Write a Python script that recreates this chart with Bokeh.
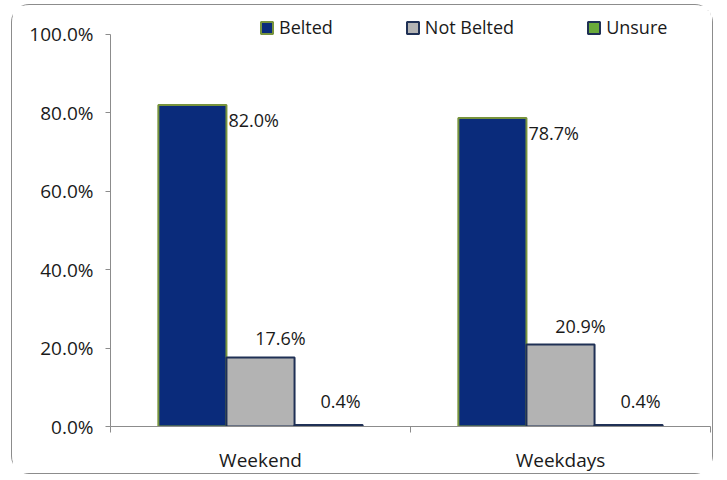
from bokeh.plotting import figure
from bokeh.models import (Range1d, FixedTicker, NumeralTickFormatter, Legend, LegendItem,
                          ColumnDataSource)
from bokeh.core.properties import value
from bokeh.embed import file_html
from bokeh.resources import INLINE

categories = ["Weekend", "Weekdays"]
series_names = ["Belted", "Not Belted", "Unsure"]
belted = [82.0, 78.7]
not_belted = [17.6, 20.9]
unsure = [0.4, 0.4]
y_ticks = [0, 20, 40, 60, 80, 100]

FONT = "Open Sans"
FS = "18px"
FS_AX = "19px"

p = figure(width=702, height=470, output_backend="svg", toolbar_location=None,
           x_range=Range1d(0, len(categories)), y_range=Range1d(0, 1.061),
           min_border_left=98, min_border_right=4, min_border_top=5, min_border_bottom=47)
p.styles = {"border": "1px solid #8c8c8c", "border-radius": "18px",
            "margin-left": "11px", "margin-top": "4px"}
p.outline_line_color = None
p.xgrid.visible = False
p.ygrid.visible = False
p.background_fill_color = "white"
p.border_fill_color = "white"

bw = 0.227
offsets = [-bw, 0.0, bw]
fills = ["#0a2b7b", "#b3b3b3", "#6aaa3a"]
lines = ["#77933c", "#1f3055", "#1f3055"]
series = [belted, not_belted, unsure]

renderers = []
for vals, off, fc, lc in zip(series, offsets, fills, lines):
    src = ColumnDataSource(dict(x=[i + 0.5 + off for i in range(len(categories))],
                                top=[v / 100.0 for v in vals],
                                lab=["%.1f%%" % v for v in vals]))
    r = p.vbar(x="x", top="top", bottom=0, width=bw, source=src,
               fill_color=fc, line_color=lc, line_width=2)
    renderers.append((r, src))

# value labels
label_cfg = [
    dict(dx=bw / 2, align="left", xo=2, yo=15),
    dict(dx=0.0, align="center", xo=20, yo=-19),
    dict(dx=0.0, align="center", xo=12, yo=-24),
]
for (r, src), off, cfg in zip(renderers, offsets, label_cfg):
    xs = [x + cfg["dx"] for x in src.data["x"]]
    p.text(x=xs, y=src.data["top"], text=src.data["lab"], text_align=cfg["align"],
           text_baseline="middle", x_offset=cfg["xo"], y_offset=cfg["yo"],
           text_font=value(FONT), text_font_size=FS, text_color="#1a1a1a")

# axes
yax = p.yaxis[0]
yax.ticker = FixedTicker(ticks=[t / 100.0 for t in y_ticks])
yax.formatter = NumeralTickFormatter(format="0.0%")
yax.bounds = (0, 1.0)
yax.axis_line_color = "#8c8c8c"
yax.major_tick_line_color = "#8c8c8c"
yax.major_tick_out = 5
yax.major_tick_in = 0
yax.minor_tick_line_color = None
yax.major_label_standoff = 12
yax.major_label_text_font = FONT
yax.major_label_text_font_size = FS_AX
yax.major_label_text_color = "#1a1a1a"

xax = p.xaxis[0]
centers = [i + 0.5 for i in range(len(categories))]
xax.ticker = FixedTicker(ticks=centers, minor_ticks=list(range(len(categories) + 1)))
xax.major_label_overrides = {c: name for c, name in zip(centers, categories)}
xax.axis_line_color = "#8c8c8c"
xax.major_tick_line_color = None
xax.major_tick_out = 0
xax.major_tick_in = 0
xax.minor_tick_line_color = "#8c8c8c"
xax.minor_tick_out = 6
xax.minor_tick_in = 0
xax.major_label_standoff = 14
xax.major_label_text_font = FONT
xax.major_label_text_font_size = FS_AX
xax.major_label_text_color = "#1a1a1a"

legend = Legend(items=[LegendItem(label=n, renderers=[r]) for n, (r, _) in zip(series_names, renderers)],
                orientation="horizontal", location=(149, 387), padding=0, margin=0,
                spacing=72, glyph_width=15, glyph_height=15, label_height=15,
                label_standoff=5, label_text_font=FONT, label_text_font_size=FS,
                label_text_color="#1a1a1a", border_line_color=None,
                background_fill_alpha=0)
p.add_layout(legend, "center")

open("out.html", "w").write(file_html(p, INLINE))
